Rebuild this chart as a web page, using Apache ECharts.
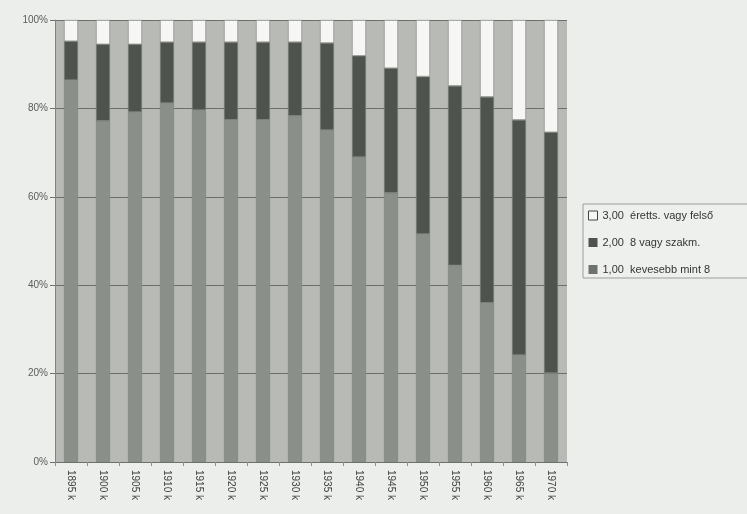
<!DOCTYPE html>
<html>
<head>
<meta charset="utf-8">
<script src="https://cdn.jsdelivr.net/npm/echarts@6/dist/echarts.min.js"></script>
<style>
  html, body { margin: 0; padding: 0; background: #eceeeb; }
  #chart { width: 747px; height: 514px; }
</style>
</head>
<body>
<div id="chart"></div>
<script>
// Birth cohorts (5-year groups)
const categories = ['1895 k', '1900 k', '1905 k', '1910 k', '1915 k', '1920 k', '1925 k', '1930 k',
  '1935 k', '1940 k', '1945 k', '1950 k', '1955 k', '1960 k', '1965 k', '1970 k'];

// Share of each education level within a cohort (percent)
const kevesebb = [86.4, 77.2, 79.2, 81.2, 79.6, 77.4, 77.4, 78.3, 75.1, 69.0, 60.9, 51.6, 44.5, 36.0, 24.2, 20.1];
const szakm    = [8.8, 17.3, 15.3, 13.8, 15.4, 17.6, 17.6, 16.7, 19.7, 22.9, 28.2, 35.6, 40.6, 46.6, 53.2, 54.5];
const erettsegi = [4.8, 5.5, 5.5, 5.0, 5.0, 5.0, 5.0, 5.0, 5.2, 8.1, 10.9, 12.8, 14.9, 17.4, 22.6, 25.4];

const yTicks = [0, 20, 40, 60, 80, 100];

const names = ['1,00  kevesebb mint 8', '2,00  8 vagy szakm.', '3,00  éretts. vagy felső'];
const colors = ['#8b8f89', '#4f534e', '#f6f7f4'];

const chart = echarts.init(document.getElementById('chart'));

function barSeries(name, data, color) {
  return {
    name: name,
    type: 'bar',
    stack: 'total',
    barWidth: 14,
    data: data,
    itemStyle: { color: color, borderColor: '#7c807a', borderWidth: 0.6 },
    emphasis: { disabled: true }
  };
}

chart.setOption({
  animation: false,
  backgroundColor: '#eceeeb',
  textStyle: { fontFamily: 'Liberation Sans, Arial, sans-serif' },
  grid: {
    left: 55, right: 180, top: 20, bottom: 52,
    show: true, backgroundColor: '#b8bbb5', borderWidth: 0
  },
  legend: {
    orient: 'vertical',
    left: 583, top: 204,
    padding: [6, 40, 3, 5],
    itemGap: 16,
    itemWidth: 9, itemHeight: 9,
    borderColor: '#9a9d98', borderWidth: 1,
    backgroundColor: '#eef0ed',
    textStyle: { color: '#333532', fontSize: 11, fontFamily: 'Liberation Sans, Arial, sans-serif' },
    data: [
      { name: names[2], icon: 'rect', itemStyle: { color: '#f6f7f4', borderColor: '#444', borderWidth: 1 } },
      { name: names[1], icon: 'rect', itemStyle: { borderWidth: 0 } },
      { name: names[0], icon: 'rect', itemStyle: { color: '#6e726c', borderWidth: 0 } }
    ]
  },
  xAxis: {
    type: 'category',
    data: categories,
    axisLine: { lineStyle: { color: '#6d706b', width: 1 } },
    axisTick: { show: true, lineStyle: { color: '#8d908b' }, length: 4 },
    axisLabel: { rotate: -90, color: '#3f413e', fontSize: 10, margin: 8 }
  },
  yAxis: {
    type: 'value',
    min: yTicks[0], max: yTicks[yTicks.length - 1], interval: 20,
    axisLine: { show: true, lineStyle: { color: '#80837e', width: 1 } },
    axisTick: { show: true, length: 5, lineStyle: { color: '#6d706b' } },
    axisLabel: { formatter: '{value}%', color: '#5a5c59', fontSize: 10, margin: 7 },
    splitLine: { show: true, lineStyle: { color: '#6b6e69', width: 1 } }
  },
  series: [
    barSeries(names[0], kevesebb, colors[0]),
    barSeries(names[1], szakm, colors[1]),
    barSeries(names[2], erettsegi, colors[2])
  ]
});
</script>
</body>
</html>
